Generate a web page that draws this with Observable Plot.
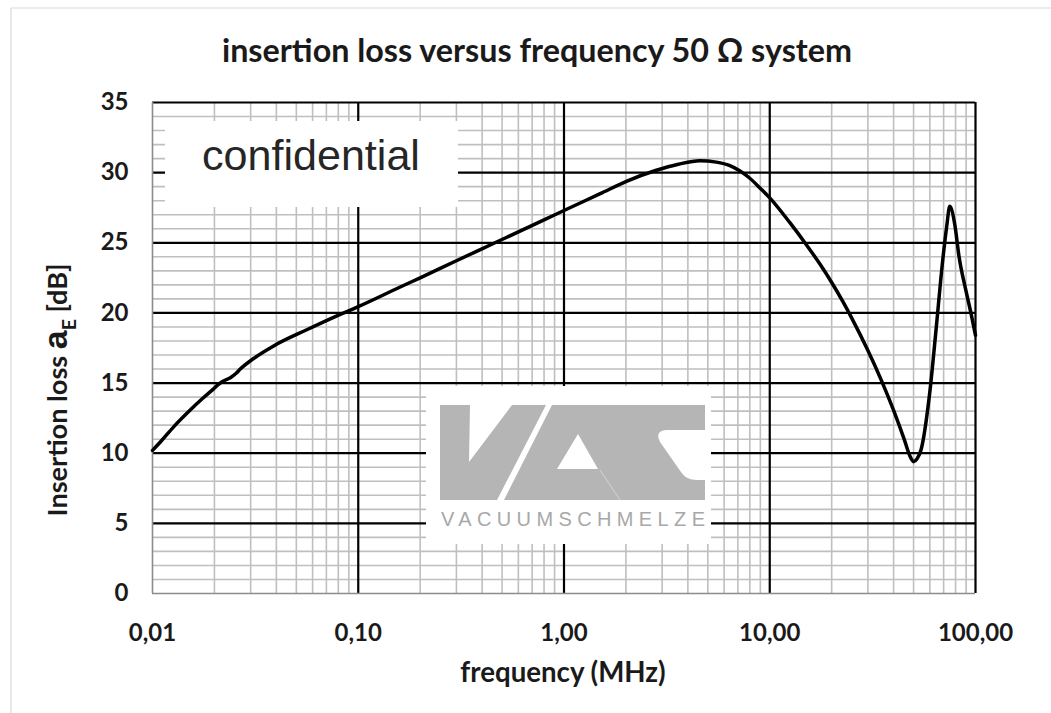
<!DOCTYPE html>
<html>
<head>
<meta charset="utf-8">
<script src="https://cdn.jsdelivr.net/npm/d3@7"></script>
<script src="https://cdn.jsdelivr.net/npm/@observablehq/plot@0.6"></script>
<style>
  html, body { margin: 0; padding: 0; background: #ffffff; }
  #chart { position: relative; width: 1051px; height: 713px; overflow: hidden; }
  #chart svg { display: block; }
</style>
</head>
<body>
<div id="chart"></div>
<script>
// ---------- data ----------
const frequencyMHz = [
  0.01, 0.011, 0.0127, 0.0153, 0.0175, 0.0195, 0.0207, 0.0218, 0.024, 0.0255, 0.0267,
  0.031, 0.0388, 0.0562, 0.0818, 0.1, 0.16, 0.2, 0.3, 0.462, 0.824, 1.0, 1.5,
  2.01, 2.81, 3.6, 4.57, 5.5, 6.4, 8.0, 9.04, 10, 12.5, 15, 17.5, 20, 22.5, 25, 30,
  35, 40, 45, 48, 50.0, 52.0, 54.5, 59.8, 64.5, 69.0, 72.5, 75.0, 79.3,
  83.2, 89.8, 95, 100
];
const insertionLossDb = [
  10.2, 10.85, 11.9, 13.1, 13.9, 14.5, 14.85, 15.1, 15.4, 15.7, 16.0,
  16.75, 17.65, 18.8, 19.9, 20.45, 21.85, 22.5, 23.72, 25.0, 26.72, 27.3, 28.5,
  29.38, 30.17, 30.6, 30.85, 30.75, 30.5, 29.6, 28.85, 28.2, 26.45, 24.9, 23.5, 22.17, 20.89, 19.65, 17.32,
  15.14, 13.05, 11.0, 9.8, 9.4, 9.6, 10.3, 14.2, 19.0, 23.5, 26.2, 27.6, 26.3,
  24.0, 21.6, 20.0, 18.4
];
const xTickValues = [0.01, 0.1, 1, 10, 100];
const xTickLabels = ["0,01", "0,10", "1,00", "10,00", "100,00"];
const yTickValues = [0, 5, 10, 15, 20, 25, 30, 35];
const titleText = "insertion loss versus frequency 50 Ω system";
const xLabelText = "frequency (MHz)";
const yLabelMain = "Insertion loss ";
const yLabelSymbol = "a";
const yLabelSub = "E";
const yLabelUnit = " [dB]";
const watermarkText = "confidential";
const logoWord = "VACUUMSCHMELZE";

// ---------- derived tables ----------
const data = frequencyMHz.map((f, i) => ({ f, loss: insertionLossDb[i] }));
const majorX = xTickValues.slice(1);
const minorX = [];
for (const d of [0.01, 0.1, 1, 10]) for (let k = 2; k <= 9; k++) minorX.push(+(d * k).toPrecision(3));
const majorY = yTickValues.slice(1);
const minorY = d3.range(1, 35).filter(v => v % 5 !== 0);

const W = 1051, H = 713;
const font = "Lato, 'Open Sans', 'DejaVu Sans', sans-serif";
const arial = "'Liberation Sans', Arial, sans-serif";

// text fitting helper (canvas measurement)
const ctx = document.createElement("canvas").getContext("2d");
function fitSize(text, weight, family, target, base) {
  ctx.font = `${weight} ${base}px ${family}`;
  const w = ctx.measureText(text).width;
  return w > 0 ? base * target / w : base;
}

const plot = Plot.plot({
  width: W, height: H,
  marginLeft: 152, marginRight: 76, marginTop: 102, marginBottom: 120,
  style: { fontFamily: font, background: "#ffffff", overflow: "visible", color: "#1a1a1a" },
  x: { type: "log", domain: [0.01, 100] },
  y: { domain: [0, 35] },
  marks: [
    Plot.ruleX(minorX, { stroke: "#bfbfbf", strokeWidth: 1.6 }),
    Plot.ruleY(minorY, { stroke: "#bfbfbf", strokeWidth: 1.6 }),
    Plot.ruleX(majorX, { stroke: "#000000", strokeWidth: 2.2 }),
    Plot.ruleY(majorY, { stroke: "#000000", strokeWidth: 2.2 }),
    Plot.ruleX([0.01], { stroke: "#8c8c8c", strokeWidth: 1.6 }),
    Plot.ruleY([0], { stroke: "#8c8c8c", strokeWidth: 1.6 }),
    Plot.axisX({
      ticks: xTickValues,
      tickFormat: d => xTickLabels[xTickValues.findIndex(v => Math.abs(v - d) < 1e-9)],
      tickSize: 0, tickPadding: 30, fontSize: 24, fontWeight: "bold", label: null
    }),
    Plot.axisY({
      ticks: yTickValues, tickSize: 0, tickPadding: 24, fontSize: 24, fontWeight: "bold", label: null
    }),
    Plot.line(data, {
      x: "f", y: "loss", stroke: "#000000", strokeWidth: 3.5,
      curve: "monotone-x", strokeLinejoin: "round", strokeLinecap: "round"
    })
  ]
});

document.getElementById("chart").appendChild(plot);
const svg = d3.select(plot);
svg.selectAll("g[aria-label$='tick label'] text").attr("font-weight", "bold");

// outer chart-area border (left and top)
svg.append("line").attr("x1", 11).attr("x2", 11).attr("y1", 8).attr("y2", H)
  .attr("stroke", "#d9d9d9").attr("stroke-width", 1.2);
svg.append("line").attr("x1", 11).attr("x2", W).attr("y1", 8).attr("y2", 8)
  .attr("stroke", "#d9d9d9").attr("stroke-width", 1.2);

// title
const titleSize = fitSize(titleText, "bold", font, 632, 26);
svg.append("text").attr("x", 537).attr("y", 62).attr("text-anchor", "middle")
  .attr("font-family", font).attr("font-weight", "bold").attr("font-size", titleSize)
  .attr("fill", "#1a1a1a").text(titleText);

// x axis label
const xlSize = fitSize(xLabelText, "bold", font, 206, 22);
svg.append("text").attr("x", 563).attr("y", 682).attr("text-anchor", "middle")
  .attr("font-family", font).attr("font-weight", "bold").attr("font-size", xlSize)
  .attr("fill", "#1a1a1a").text(xLabelText);

// y axis label with subscript
const ylSize = fitSize(yLabelMain + yLabelSymbol + yLabelSub + yLabelUnit, "bold", font, 252, 22);
const yl = svg.append("text")
  .attr("transform", "translate(67,390) rotate(-90)")
  .attr("text-anchor", "middle")
  .attr("font-family", font).attr("font-weight", "bold").attr("font-size", ylSize)
  .attr("fill", "#1a1a1a");
yl.append("tspan").text(yLabelMain);
yl.append("tspan").attr("font-size", ylSize * 1.25).attr("font-family", arial).text(yLabelSymbol);
yl.append("tspan").attr("font-size", ylSize * 0.72).attr("dy", ylSize * 0.32).text(yLabelSub);
yl.append("tspan").attr("dy", -ylSize * 0.32).text(yLabelUnit);

// "confidential" box
svg.append("rect").attr("x", 165).attr("y", 121).attr("width", 293).attr("height", 86).attr("fill", "#ffffff");
const confSize = fitSize(watermarkText, "normal", arial, 218, 42);
svg.append("text").attr("x", 202).attr("y", 170).attr("text-anchor", "start")
  .attr("font-family", arial).attr("font-weight", "normal").attr("font-size", confSize)
  .attr("fill", "#262626").text(watermarkText);

// VAC logo box
const logo = svg.append("g").attr("aria-label", "logo");
logo.append("rect").attr("x", 426).attr("y", 386).attr("width", 285).attr("height", 158).attr("fill", "#ffffff");
logo.append("path").attr("fill", "#b5b5b5")
  .attr("d", "M440,405 L470,405 L469,462 L512,405 L546,405 L497,500 L440,500 Z");
logo.append("path").attr("fill", "#b5b5b5").attr("fill-rule", "evenodd")
  .attr("d", "M552,405 L705,405 L705,430 L668,430 Q654,430 660,442 L681,472 Q686,480 697,480 L705,480 L705,500 L504,500 Z " +
             "M557,469 L578,434 L598,469 Z");
logo.append("line").attr("x1", 600).attr("y1", 470).attr("x2", 620).attr("y2", 500)
  .attr("stroke", "#d4d4d4").attr("stroke-width", 1);
logo.append("text").attr("x", 441).attr("y", 526).attr("text-anchor", "start")
  .attr("font-family", arial).attr("font-weight", "normal").attr("font-size", 20)
  .attr("fill", "#a8a8a8").attr("textLength", 264).attr("lengthAdjust", "spacing")
  .text(logoWord);

// keep the curve on top
svg.selectAll("g[aria-label='line']").raise();
</script>
</body>
</html>
